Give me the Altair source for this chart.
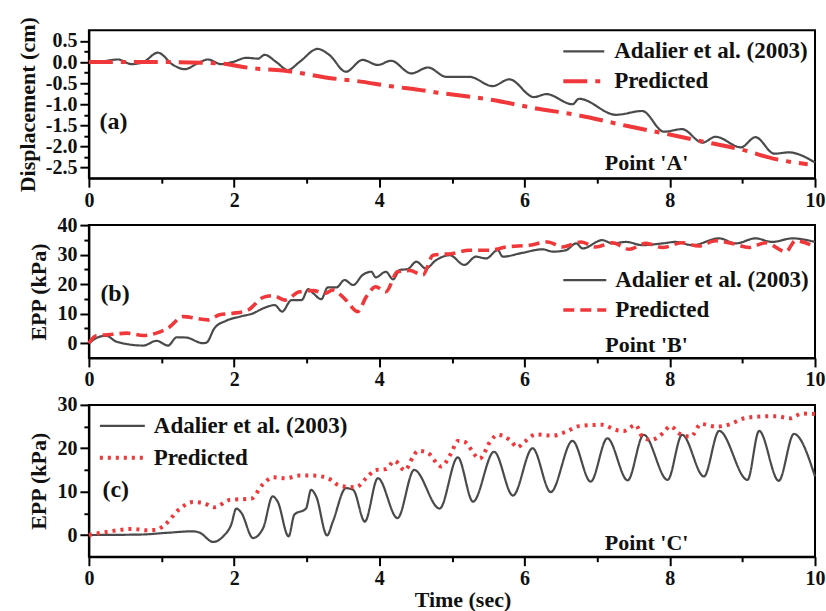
import altair as alt
import pandas as pd

EXP = "Adalier et al. (2003)"
PRED = "Predicted"
SERIES = [EXP, PRED]

# (time s, lateral displacement cm) at point A
disp_measured = [
    (0, 0), (0.2, 0.02), (0.4, 0.06), (0.59, -0.05), (0.75, 0), (0.95, 0.22),
    (1.16, -0.07), (1.32, -0.17), (1.5, -0.03), (1.64, 0.06), (1.82, -0.05),
    (1.98, 0), (2.17, 0.1), (2.33, 0.08), (2.42, 0.17), (2.58, 0), (2.74, -0.19),
    (2.9, 0), (3.15, 0.31), (3.31, 0.17), (3.54, -0.23), (3.77, 0.05),
    (3.98, -0.07), (4.16, 0.03), (4.44, -0.27), (4.67, -0.13), (4.92, -0.35),
    (5.24, -0.35), (5.56, -0.57), (5.79, -0.41), (6.13, -0.83), (6.30, -0.76),
    (6.66, -1.0), (6.75, -0.87), (7.26, -1.25), (7.62, -1.16), (7.92, -1.65),
    (8.17, -1.59), (8.45, -1.91), (8.63, -1.77), (8.98, -2.02), (9.18, -1.78),
    (9.44, -2.17), (9.64, -2.14), (10.0, -2.38),
]
disp_predicted = [
    (0, 0), (0.93, 0), (1.76, -0.03), (2.26, -0.15), (2.67, -0.2), (3.36, -0.39),
    (3.64, -0.44), (4.19, -0.58), (4.55, -0.66), (4.78, -0.72), (5.56, -0.9),
    (6.16, -1.1), (6.71, -1.25), (7.4, -1.51), (7.95, -1.70), (8.45, -1.88),
    (9.0, -2.08), (9.46, -2.30), (9.9, -2.42),
]

# (time s, excess pore pressure kPa) at point B
eppB_measured = [
    (0, 0), (0.15, 2.2), (0.24, 2.5), (0.38, 0.5), (0.75, -0.8), (0.93, 0.8),
    (1.09, -0.8), (1.21, 2.0), (1.34, 1.9), (1.57, 0), (1.62, 0.2), (1.73, 5.1),
    (1.89, 7.6), (2.08, 9.0), (2.26, 10.1), (2.40, 11.8), (2.56, 12.9),
    (2.66, 10.7), (2.79, 14.6), (2.93, 14.6), (3.02, 18.3), (3.09, 16.9),
    (3.20, 14.9), (3.29, 18.9), (3.41, 18.9), (3.52, 21.4), (3.64, 19.7),
    (3.77, 23.1), (3.89, 24.2), (3.95, 22.3), (4.09, 24.2), (4.19, 21.6),
    (4.28, 24.8), (4.39, 25.1), (4.51, 27.6), (4.64, 25.3), (4.78, 28.1),
    (4.97, 29.8), (5.17, 26.5), (5.33, 29.3), (5.47, 28.7), (5.63, 31.5),
    (5.70, 29.3), (5.97, 30.6), (6.25, 31.8), (6.39, 31.0), (6.57, 31.5),
    (6.71, 33.8), (6.80, 32.1), (7.07, 34.9), (7.21, 33.8), (7.40, 34.3),
    (7.62, 33.2), (7.90, 33.8), (8.08, 34.3), (8.31, 33.2), (8.68, 35.5),
    (8.91, 33.8), (9.18, 35.5), (9.41, 34.3), (9.69, 35.5), (10.0, 34.3),
]
eppB_predicted = [
    (0, 0), (0.1, 2.5), (0.33, 3.0), (0.52, 3.4), (0.75, 2.6), (0.93, 3.4),
    (1.09, 5.1), (1.30, 9.0), (1.64, 7.9), (1.80, 9.6), (1.98, 10.1),
    (2.19, 11.2), (2.40, 15.5), (2.54, 16.1), (2.70, 14.6), (2.90, 17.4),
    (3.09, 17.8), (3.25, 16.9), (3.36, 18.0), (3.54, 14.6), (3.70, 10.7),
    (3.82, 15.7), (3.95, 19.1), (4.09, 17.4), (4.25, 24.2), (4.42, 24.6),
    (4.60, 23.1), (4.74, 29.8), (5.01, 30.4), (5.24, 31.5), (5.52, 31.5),
    (5.75, 32.6), (6.07, 33.2), (6.32, 34.3), (6.52, 32.6), (6.78, 34.3),
    (6.98, 32.6), (7.21, 34.0), (7.44, 31.8), (7.67, 33.8), (7.90, 32.4),
    (8.17, 34.0), (8.40, 32.9), (8.63, 34.7), (8.86, 33.8), (9.09, 32.4),
    (9.32, 34.0), (9.60, 31.0), (9.73, 34.7), (10.0, 32.6),
]

# (time s, excess pore pressure kPa) at point C
eppC_measured = [
    (0, 0), (0.70, 0.1), (1.07, 0.5), (1.43, 0.85), (1.53, 0.5), (1.71, -1.6),
    (1.85, -0.3), (1.96, 2.4), (2.03, 6.1), (2.10, 5.1), (2.26, -0.7),
    (2.40, 1.6), (2.53, 8.9), (2.60, 7.7), (2.75, -0.3), (2.83, 4.7),
    (2.99, 6.1), (3.06, 10.4), (3.13, 8.9), (3.28, -0.1), (3.36, 3.1),
    (3.54, 10.8), (3.64, 10.4), (3.80, 3.1), (3.98, 13.1), (4.25, 3.9),
    (4.48, 15.0), (4.83, 6.1), (5.08, 17.9), (5.29, 7.7), (5.58, 19.2),
    (5.84, 9.1), (6.11, 20.0), (6.36, 9.9), (6.66, 21.7), (6.91, 12.3),
    (7.14, 22.3), (7.42, 12.6), (7.64, 23.1), (7.97, 12.7), (8.17, 23.1),
    (8.47, 13.5), (8.68, 24.0), (9.07, 12.7), (9.23, 24.0), (9.50, 12.5),
    (9.71, 23.3), (10.0, 13.5),
]
eppC_predicted = [
    (0, 0), (0.29, 0.85), (0.61, 1.4), (0.79, 1.1), (0.93, 1.2), (1.02, 2.0),
    (1.25, 6.0), (1.43, 7.6), (1.57, 7.4), (1.73, 6.4), (1.94, 8.1),
    (2.24, 8.4), (2.38, 11.4), (2.54, 13.3), (2.72, 13.1), (2.90, 13.7),
    (3.09, 13.7), (3.29, 13.1), (3.45, 11.4), (3.68, 11.0), (3.82, 13.1),
    (3.95, 15.0), (4.09, 15.2), (4.21, 17.1), (4.35, 14.9), (4.46, 17.9),
    (4.53, 19.4), (4.67, 18.9), (4.85, 15.8), (4.99, 18.9), (5.08, 21.7),
    (5.17, 21.5), (5.38, 17.6), (5.54, 21.9), (5.63, 23.1), (5.81, 21.7),
    (5.90, 20.2), (6.00, 21.5), (6.16, 23.2), (6.39, 22.9), (6.57, 23.8),
    (6.75, 25.1), (7.07, 25.4), (7.26, 24.2), (7.37, 24.0), (7.53, 25.4),
    (7.62, 22.7), (7.74, 21.9), (7.90, 23.4), (8.01, 25.1), (8.13, 23.4),
    (8.29, 22.7), (8.43, 25.6), (8.63, 25.0), (8.84, 25.6), (9.00, 26.8),
    (9.23, 27.3), (9.46, 27.4), (9.66, 26.9), (9.82, 28.0), (10.0, 27.9),
]

time_ticks = [0, 1, 2, 3, 4, 5, 6, 7, 8, 9, 10]
disp_ticks = [-2.5, -2.25, -2.0, -1.75, -1.5, -1.25, -1.0, -0.75, -0.5, -0.25, 0.0, 0.25, 0.5]
eppB_ticks = [0, 5, 10, 15, 20, 25, 30, 35, 40]
eppC_ticks = [0, 5, 10, 15, 20, 25, 30]

panel_tags = ["(a)", "(b)", "(c)"]
tag_positions = [(0.34, -1.42), (0.36, 16.7), (0.37, 10.3)]
point_names = ["Point 'A'", "Point 'B'", "Point 'C'"]
point_positions = [(7.68, -2.39), (7.68, -0.6), (7.68, -1.9)]

FONT = "'Times New Roman', 'Liberation Serif', Times, serif"
INK = "#111111"
GREY = "#4a4a4a"
RED = "#f0383b"

MAJOR_TIME = "datum.value % 2 === 0"


def x_encoding(title):
    axis = alt.Axis(
        values=time_ticks,
        labelExpr=f"{MAJOR_TIME} ? datum.label : ''",
        tickSize={"condition": {"test": MAJOR_TIME, "value": 9}, "value": 5},
        labelFlush=False,
        labelOverlap=False,
        title=title,
        titleX=374,
        titlePadding=1,
    )
    return alt.X("t:Q", scale=alt.Scale(domain=[0, 10], nice=False, zero=False), axis=axis)


def y_encoding(domain, ticks, major_test, label_expr, title):
    axis = alt.Axis(
        values=ticks,
        labelExpr=f"({major_test}) ? {label_expr} : ''",
        tickSize={"condition": {"test": major_test, "value": 9}, "value": 5},
        labelOverlap=False,
        title=title,
    )
    return alt.Y("v:Q", scale=alt.Scale(domain=domain, nice=False, zero=False), axis=axis)


def panel(measured, predicted, idx, y, x, dash, pred_width, legend_x, legend_y,
          symbol_len, label_offset, row_pad, height):
    rows = [{"t": t, "v": v, "series": EXP} for t, v in measured]
    rows += [{"t": t, "v": v, "series": PRED} for t, v in predicted]
    df = pd.DataFrame(rows)

    legend = alt.Legend(
        orient="none",
        legendX=legend_x,
        legendY=legend_y,
        title=None,
        symbolType="stroke",
        symbolSize=symbol_len * symbol_len,
        clipHeight=22,
        labelFont=FONT,
        labelFontSize=23,
        labelFontWeight="bold",
        labelColor=INK,
        labelLimit=400,
        labelOffset=label_offset,
        rowPadding=row_pad,
        padding=0,
    )

    lines = alt.Chart(df).mark_line(interpolate="monotone").encode(
        x=x,
        y=y,
        color=alt.Color("series:N", scale=alt.Scale(domain=SERIES, range=[GREY, RED]), legend=legend),
        strokeDash=alt.StrokeDash("series:N", scale=alt.Scale(domain=SERIES, range=[[1, 0], dash]), legend=legend),
        strokeWidth=alt.StrokeWidth("series:N", scale=alt.Scale(domain=SERIES, range=[2.2, pred_width]), legend=legend),
    )

    tag_df = pd.DataFrame([{"t": tag_positions[idx][0], "v": tag_positions[idx][1], "label": panel_tags[idx]}])
    tag = alt.Chart(tag_df).mark_text(font=FONT, fontSize=24, fontWeight="bold", color=INK).encode(
        x=x, y=y, text="label:N"
    )
    point_df = pd.DataFrame([{"t": point_positions[idx][0], "v": point_positions[idx][1], "label": point_names[idx]}])
    point = alt.Chart(point_df).mark_text(font=FONT, fontSize=22, fontWeight="bold", color=INK).encode(
        x=x, y=y, text="label:N"
    )
    return alt.layer(lines, tag, point).properties(width=727, height=height)


disp_major = "abs(datum.value * 2 - round(datum.value * 2)) < 0.001"
disp_label = "replace(format(datum.value, '.1f'), '\u2212', '-')"
epp_major = "datum.value % 10 === 0"

pa = panel(
    disp_measured, disp_predicted, 0,
    y_encoding([-2.75, 0.75], disp_ticks, disp_major, disp_label, "Displacement (cm)"),
    x_encoding(None),
    [24, 8, 5, 8], 4, 473, 10, 41, 8, 7, 148,
)
pb = panel(
    eppB_measured, eppB_predicted, 1,
    y_encoding([-5, 40], eppB_ticks, epp_major, "datum.label", "EPP (kPa)"),
    x_encoding(None),
    [11, 6], 3.6, 473, 44, 43, 7, 7, 133,
)
pc = panel(
    eppC_measured, eppC_predicted, 2,
    y_encoding([-5, 30], eppC_ticks, epp_major, "datum.label", "EPP (kPa)"),
    x_encoding("Time (sec)"),
    [3, 5], 4, 9, 10, 45, 7, 9, 152,
)

chart = (
    alt.vconcat(pa, pb, pc, spacing=3)
    .resolve_scale(color="independent", strokeDash="independent", strokeWidth="independent",
                   x="independent", y="independent")
    .resolve_legend(color="independent", strokeDash="independent", strokeWidth="independent")
    .properties(padding={"left": 15, "top": 15, "right": 0, "bottom": 0}, background="white")
    .configure_view(stroke="black", strokeWidth=2)
    .configure_axis(
        grid=False,
        domainColor="black",
        domainWidth=2,
        tickColor="black",
        tickWidth=2,
        labelFont=FONT,
        labelFontSize=20,
        labelFontWeight="bold",
        labelColor=INK,
        labelPadding=3,
        titleFont=FONT,
        titleFontSize=22,
        titleFontWeight="bold",
        titleColor=INK,
        titlePadding=6,
    )
)

chart.save("out.html", embed_options={"renderer": "svg", "actions": False})
